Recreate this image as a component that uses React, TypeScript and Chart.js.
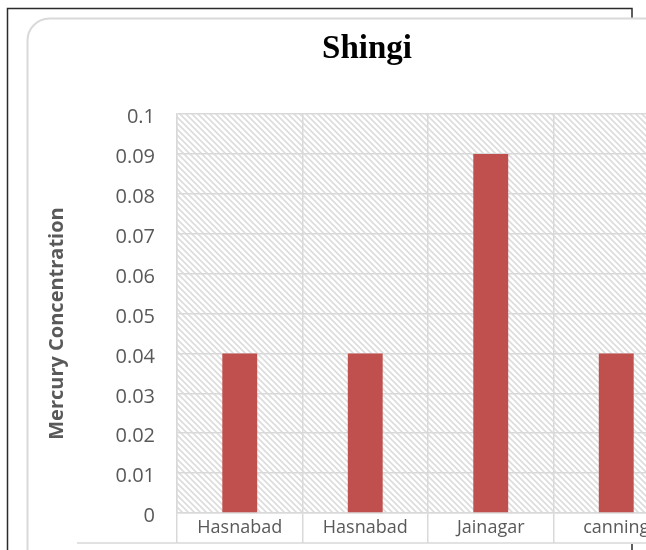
import React, { useEffect, useRef } from "react";
import { Chart, registerables } from "chart.js";

Chart.register(...registerables);

const chartTitle = "Shingi";
const yAxisTitle = "Mercury Concentration";
const categories = ["Hasnabad", "Hasnabad", "Jainagar", "canning"];
const mercury = [0.04, 0.04, 0.09, 0.04];
const yTickLabels = ["0", "0.01", "0.02", "0.03", "0.04", "0.05", "0.06", "0.07", "0.08", "0.09", "0.1"];

const CW = 734;
const CH = 600;

function makePattern(): CanvasPattern | string {
  const p = 6;
  const c = document.createElement("canvas");
  c.width = p;
  c.height = p;
  const g = c.getContext("2d");
  if (!g) return "#f0f0f0";
  g.fillStyle = "#ffffff";
  g.fillRect(0, 0, p, p);
  g.strokeStyle = "#dcdcdc";
  g.lineWidth = 1.6;
  g.beginPath();
  for (let k = -1; k <= 1; k++) {
    g.moveTo(-p, -p + k * p);
    g.lineTo(2 * p, 2 * p + k * p);
  }
  g.stroke();
  const pat = g.createPattern(c, "repeat");
  return pat || "#f0f0f0";
}

export default function App() {
  const ref = useRef<HTMLCanvasElement | null>(null);

  useEffect(() => {
    const canvas = ref.current;
    if (!canvas) return;
    const pattern = makePattern();

    const framePlugin = {
      id: "frame",
      beforeDraw(chart: any) {
        const ctx = chart.ctx;
        const ca = chart.chartArea;
        ctx.save();
        // outer dark frame
        ctx.strokeStyle = "#2b2b2b";
        ctx.lineWidth = 1.5;
        ctx.beginPath();
        ctx.moveTo(7.5, CH);
        ctx.lineTo(7.5, 8.5);
        ctx.lineTo(632, 8.5);
        ctx.lineTo(632, CH);
        ctx.stroke();
        // inner white rounded panel
        const x0 = 27.5, y0 = 18.5, r = 22;
        ctx.fillStyle = "#ffffff";
        ctx.beginPath();
        ctx.moveTo(x0, 544);
        ctx.lineTo(x0, y0 + r);
        ctx.arcTo(x0, y0, x0 + r, y0, r);
        ctx.lineTo(CW, y0);
        ctx.lineTo(CW, 544);
        ctx.closePath();
        ctx.fill();
        ctx.strokeStyle = "#d9d9d9";
        ctx.lineWidth = 2;
        ctx.beginPath();
        ctx.moveTo(x0, CH);
        ctx.lineTo(x0, y0 + r);
        ctx.arcTo(x0, y0, x0 + r, y0, r);
        ctx.lineTo(CW, y0);
        ctx.stroke();
        // hatched plot area
        ctx.fillStyle = pattern as any;
        ctx.fillRect(ca.left, ca.top, ca.right - ca.left, ca.bottom - ca.top);
        ctx.restore();
      },
      afterDraw(chart: any) {
        const ctx = chart.ctx;
        const ca = chart.chartArea;
        ctx.save();
        // bottom line of label boxes
        ctx.strokeStyle = "#d9d9d9";
        ctx.lineWidth = 1.5;
        ctx.beginPath();
        ctx.moveTo(ca.left - 100, ca.bottom + 30);
        ctx.lineTo(CW, ca.bottom + 30);
        ctx.stroke();
        // y axis title
        ctx.fillStyle = "#595959";
        ctx.font = "bold 20px 'Open Sans'";
        ctx.textAlign = "center";
        ctx.textBaseline = "middle";
        ctx.translate(ca.left - 120, (ca.top + ca.bottom) / 2 + 10);
        ctx.rotate(-Math.PI / 2);
        ctx.fillText(yAxisTitle, 0, 0);
        ctx.restore();
      },
    };

    const chart = new Chart(canvas, {
      type: "bar",
      data: {
        labels: categories,
        datasets: [
          {
            label: chartTitle,
            data: mercury,
            backgroundColor: "#c0504d",
            borderWidth: 0,
            categoryPercentage: 1,
            barPercentage: 0.278,
          },
        ],
      },
      options: {
        responsive: false,
        animation: false,
        layout: { padding: { left: 55, right: 55, top: 0, bottom: 47 } },
        plugins: {
          legend: { display: false },
          tooltip: { enabled: false },
          title: {
            display: true,
            text: chartTitle,
            color: "#000000",
            font: { family: "'Liberation Serif'", size: 33, weight: "bold" },
            padding: { top: 30, bottom: 44.4 },
          },
        },
        scales: {
          x: {
            grid: {
              color: "#d9d9d9",
              lineWidth: 1.5,
              offset: true,
              drawTicks: true,
              tickLength: 30,
              tickColor: "#d9d9d9",
              tickWidth: 1.5,
            },
            border: { color: "#d9d9d9", width: 1.5 },
            ticks: {
              color: "#595959",
              font: { family: "'Open Sans'", size: 18 },
              padding: -26,
              maxRotation: 0,
              autoSkip: false,
            },
            afterFit(scale: any) {
              scale.height = 40;
            },
          },
          y: {
            min: 0,
            max: 0.1,
            grid: { color: "#d9d9d9", lineWidth: 1.5, drawTicks: false },
            border: { color: "#d9d9d9", width: 1.5 },
            ticks: {
              stepSize: 0.01,
              color: "#595959",
              font: { family: "'Open Sans'", size: 20 },
              padding: 22,
              labelOffset: 3.5,
              callback: (_v: any, i: number) => yTickLabels[i],
            },
            afterFit(scale: any) {
              scale.width = 122;
            },
          },
        },
      },
      plugins: [framePlugin],
    });
    return () => chart.destroy();
  }, []);

  return (
    <div
      style={{
        position: "fixed",
        left: 0,
        top: 0,
        width: 646,
        height: 550,
        overflow: "hidden",
        background: "#ffffff",
      }}
    >
      <canvas ref={ref} width={CW} height={CH} style={{ width: CW, height: CH, display: "block" }} />
    </div>
  );
}
